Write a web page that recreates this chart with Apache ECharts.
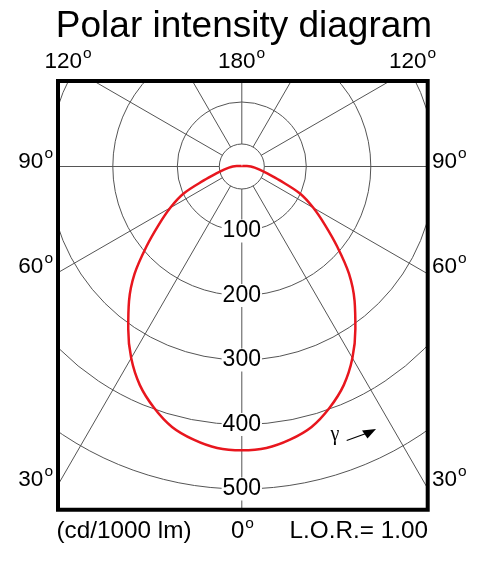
<!DOCTYPE html>
<html>
<head>
<meta charset="utf-8">
<script src="https://cdn.jsdelivr.net/npm/echarts@6/dist/echarts.min.js"></script>
<style>html,body{margin:0;padding:0;background:#fff}#main{width:479px;height:565px}</style>
</head>
<body>
<div id="main"></div>
<script>
// ---- data ----
const chartTitle = 'Polar intensity diagram';
const gammaDeg = [0, 5, 10, 15, 20, 25, 30, 35, 40, 45, 50, 55, 60, 65, 70, 75, 80, 85, 90, 95, 100, 110, 120, 150, 180];
const intensity = [440, 438, 430, 418, 398, 374, 343, 307, 272, 235, 193, 157, 128, 100, 62, 40, 28, 20, 14, 8, 4, 2, 1, 1, 1];
const radiusTickLabels = ['100', '200', '300', '400', '500'];
const topAngleLabels = ['120', '180', '120'];
const sideAngleLabels = ['90', '60', '30'];
const bottomAngleLabel = '0';
const unitLabel = '(cd/1000 lm)';
const lorLabel = 'L.O.R.= 1.00';
const gammaSymbol = 'γ';

// ---- layout ----
const CX = 241.8, CY = 166.5;
const RMAX = 700, PX_PER_UNIT = 0.645;
const R = RMAX * PX_PER_UNIT;
const BOX = { x: 58, y: 81, w: 369.7, h: 428.7 };
const FONT = 'Liberation Sans, Arial, Helvetica, sans-serif';

// closed curve: start at top (180), go down one side, back up the other (symmetric C-planes)
const curve = [];
for (let i = gammaDeg.length - 1; i >= 0; i--) curve.push([intensity[i], gammaDeg[i]]);
for (let i = 1; i < gammaDeg.length; i++) curve.push([intensity[i], 360 - gammaDeg[i]]);

function degText(num, x, y, size, supSize, align, raise) {
  return {
    type: 'text', x: x, y: y, z: 120,
    style: {
      text: '{d|' + num + '}{s|o}',
      align: align, verticalAlign: 'middle',
      rich: {
        d: { fontSize: size, fontFamily: FONT, fill: '#000' },
        s: { fontSize: supSize, fontFamily: FONT, fill: '#000', padding: [0, 0, raise, 1] }
      }
    }
  };
}

const chart = echarts.init(document.getElementById('main'));
const gridColor = '#555';
const circleColors = radiusTickLabels.map(() => gridColor);
circleColors.unshift(gridColor);            // tick 0
circleColors.push('rgba(0,0,0,0)', 'rgba(0,0,0,0)'); // 600, 700 outside the frame

const LBL = 22.5, SUP = 15.5, RAISE = 17;

chart.setOption({
  animation: false,
  backgroundColor: '#fff',
  polar: [
    { center: [CX, CY], radius: [0, R] },
    { center: [CX, CY], radius: [22.5, R] }
  ],
  angleAxis: [
    { polarIndex: 0, type: 'value', min: 0, max: 360, startAngle: 270, clockwise: true, show: false },
    {
      polarIndex: 1, type: 'value', min: 0, max: 360, interval: 30, startAngle: 270, clockwise: true, z: 0,
      axisLine: { show: true, lineStyle: { color: gridColor, width: 1 } },
      axisTick: { show: false }, axisLabel: { show: false },
      splitLine: { show: true, lineStyle: { color: gridColor, width: 1 } }
    }
  ],
  radiusAxis: [
    {
      polarIndex: 0, type: 'value', min: 0, max: RMAX, interval: 100, z: 1,
      axisLine: { show: false }, axisTick: { show: false },
      splitLine: { show: true, lineStyle: { color: circleColors, width: 1 } },
      axisLabel: {
        show: true, margin: 0, align: 'center', verticalAlign: 'middle',
        showMinLabel: false,
        fontSize: 23, fontFamily: FONT, color: '#000',
        backgroundColor: '#fff', padding: [0, 1],
        formatter: v => (radiusTickLabels.indexOf(String(v)) >= 0 ? String(v) : '')
      }
    },
    { polarIndex: 1, type: 'value', min: 0, max: RMAX, show: false }
  ],
  series: [{
    type: 'line', coordinateSystem: 'polar', polarIndex: 0,
    data: curve, smooth: 0.35, symbol: 'none', z: 2,
    lineStyle: { color: '#e8161e', width: 2.5 }
  }],
  graphic: [
    // white masks outside the frame
    { type: 'rect', z: 100, shape: { x: 0, y: 0, width: 479, height: BOX.y }, style: { fill: '#fff' } },
    { type: 'rect', z: 100, shape: { x: 0, y: BOX.y + BOX.h, width: 479, height: 565 }, style: { fill: '#fff' } },
    { type: 'rect', z: 100, shape: { x: 0, y: 0, width: BOX.x, height: 565 }, style: { fill: '#fff' } },
    { type: 'rect', z: 100, shape: { x: BOX.x + BOX.w, y: 0, width: 100, height: 565 }, style: { fill: '#fff' } },
    // frame
    { type: 'rect', z: 110, shape: { x: BOX.x, y: BOX.y, width: BOX.w, height: BOX.h }, style: { fill: null, stroke: '#000', lineWidth: 4 } },
    // title
    { type: 'text', z: 120, x: 244, y: 27, style: { text: chartTitle, fontSize: 37, fontFamily: FONT, fill: '#000', align: 'center', verticalAlign: 'middle' } },
    // top angle labels
    degText(topAngleLabels[0], 44.5, 62, LBL, SUP, 'left', RAISE),
    degText(topAngleLabels[1], 218, 62, LBL, SUP, 'left', RAISE),
    degText(topAngleLabels[2], 389, 62, LBL, SUP, 'left', RAISE),
    // left side
    degText(sideAngleLabels[0], 53, 162, LBL, SUP, 'right', RAISE),
    degText(sideAngleLabels[1], 53, 267, LBL, SUP, 'right', RAISE),
    degText(sideAngleLabels[2], 53, 480, LBL, SUP, 'right', RAISE),
    // right side
    degText(sideAngleLabels[0], 432, 162, LBL, SUP, 'left', RAISE),
    degText(sideAngleLabels[1], 432, 267, LBL, SUP, 'left', RAISE),
    degText(sideAngleLabels[2], 432, 480, LBL, SUP, 'left', RAISE),
    // bottom
    degText(bottomAngleLabel, 231, 531.5, 24, SUP, 'left', 15),
    { type: 'text', z: 120, x: 56.5, y: 531.5, style: { text: unitLabel, fontSize: 24.3, fontFamily: FONT, fill: '#000', align: 'left', verticalAlign: 'middle' } },
    { type: 'text', z: 120, x: 428, y: 531.5, style: { text: lorLabel, fontSize: 24.3, fontFamily: FONT, fill: '#000', align: 'right', verticalAlign: 'middle' } },
    // gamma with arrow
    { type: 'text', z: 120, x: 335, y: 435, style: { text: gammaSymbol, fontSize: 20, fontFamily: 'Liberation Serif, DejaVu Serif, serif', fill: '#000', align: 'center', verticalAlign: 'middle' } },
    { type: 'line', z: 120, shape: { x1: 346.7, y1: 440.5, x2: 366, y2: 433.5 }, style: { stroke: '#000', lineWidth: 1.2 } },
    { type: 'polygon', z: 120, shape: { points: [[376, 429], [362, 430.5], [367.5, 438.5]] }, style: { fill: '#000' } }
  ]
});
</script>
</body>
</html>
